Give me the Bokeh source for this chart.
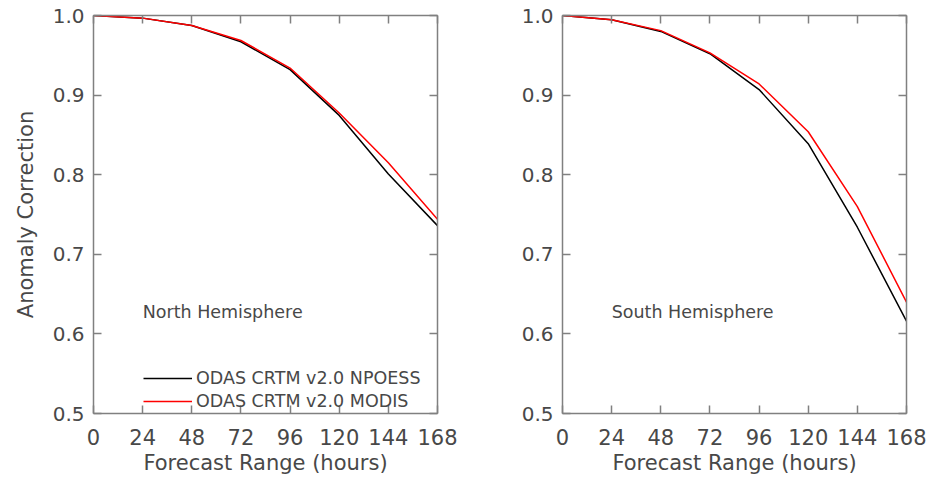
from bokeh.plotting import figure
from bokeh.layouts import row
from bokeh.models import Range1d, FixedTicker, LinearAxis, Legend, LegendItem, Label
from bokeh.embed import file_html
from bokeh.resources import INLINE

hours = [0, 24, 48, 72, 96, 120, 144, 168]
x_ticks = [0, 24, 48, 72, 96, 120, 144, 168]
y_ticks = [0.5, 0.6, 0.7, 0.8, 0.9, 1.0]

nh_npoess = [1.000, 0.9967, 0.9874, 0.967, 0.932, 0.8745, 0.801, 0.736]
nh_modis = [1.000, 0.9967, 0.9874, 0.9686, 0.934, 0.8775, 0.815, 0.744]
sh_npoess = [1.000, 0.9946, 0.980, 0.952, 0.907, 0.839, 0.734, 0.616]
sh_modis = [1.000, 0.9946, 0.981, 0.953, 0.914, 0.854, 0.760, 0.640]

series_names = ["ODAS CRTM v2.0 NPOESS", "ODAS CRTM v2.0 MODIS"]
panel_titles = ["North Hemisphere", "South Hemisphere"]

FONT = "DejaVu Sans"
TXT = "#484848"
AX = "#808080"


def style_axis(ax, show_labels):
    ax.axis_line_color = AX
    ax.axis_line_width = 1.5
    ax.major_tick_line_color = AX
    ax.major_tick_line_width = 1.5
    ax.major_tick_in = 8
    ax.major_tick_out = 0
    ax.minor_tick_line_color = None
    ax.major_label_text_font = FONT
    ax.major_label_text_color = TXT
    ax.major_label_text_font_size = "21px"
    ax.axis_label_text_font = FONT
    ax.axis_label_text_color = TXT
    ax.axis_label_text_font_size = "21px"
    ax.axis_label_text_font_style = "normal"
    if not show_labels:
        ax.major_label_text_font_size = "0px"
        ax.major_label_text_color = None


def make_panel(npoess, modis, title, left_border, right_border, ylabel, with_legend):
    p = figure(width=left_border + 344 + right_border, height=483,
               output_backend="svg", toolbar_location=None,
               x_range=Range1d(0, 168), y_range=Range1d(0.5, 1.0),
               min_border_left=left_border, min_border_right=right_border,
               min_border_top=15, min_border_bottom=70,
               x_axis_location=None, y_axis_location=None)
    p.outline_line_color = None
    p.xgrid.visible = False
    p.ygrid.visible = False
    p.background_fill_color = "white"
    p.border_fill_color = "white"

    bottom = LinearAxis(ticker=FixedTicker(ticks=x_ticks), axis_label="Forecast Range (hours)")
    top = LinearAxis(ticker=FixedTicker(ticks=x_ticks))
    left = LinearAxis(ticker=FixedTicker(ticks=y_ticks), axis_label=ylabel)
    right = LinearAxis(ticker=FixedTicker(ticks=y_ticks))
    for ax, show in ((bottom, True), (top, False), (left, True), (right, False)):
        style_axis(ax, show)
    left.major_label_text_font_size = "20px"
    bottom.major_label_standoff = 15
    bottom.axis_label_standoff = 3
    left.major_label_standoff = 9
    left.axis_label_standoff = 12
    left.major_label_overrides = {v: f"{v:.1f}" for v in y_ticks}
    top.major_label_standoff = 0
    right.major_label_standoff = 0
    p.add_layout(bottom, "below")
    p.add_layout(top, "above")
    p.add_layout(left, "left")
    p.add_layout(right, "right")

    r1 = p.line(hours, npoess, line_color="black", line_width=1.5)
    r2 = p.line(hours, modis, line_color="#ff0000", line_width=1.5)

    p.add_layout(Label(x=24, y=0.627, text=title, text_font=FONT, text_font_size="17.5px",
                       text_color=TXT, text_baseline="middle", text_align="left"))

    if with_legend:
        leg = Legend(items=[LegendItem(label=series_names[0], renderers=[r1]),
                            LegendItem(label=series_names[1], renderers=[r2])],
                     location=(50, 2), background_fill_alpha=0, border_line_color=None,
                     glyph_width=49, glyph_height=20, label_standoff=4, padding=0, margin=0,
                     spacing=3, label_text_font=FONT, label_text_font_size="17.5px",
                     label_text_color=TXT, label_height=20)
        p.add_layout(leg, "center")
    return p


p1 = make_panel(nh_npoess, nh_modis, panel_titles[0], 93, 29, "Anomaly Correction", True)
p2 = make_panel(sh_npoess, sh_modis, panel_titles[1], 96, 26, None, False)

layout = row(p1, p2)
open("out.html", "w").write(file_html(layout, INLINE))
